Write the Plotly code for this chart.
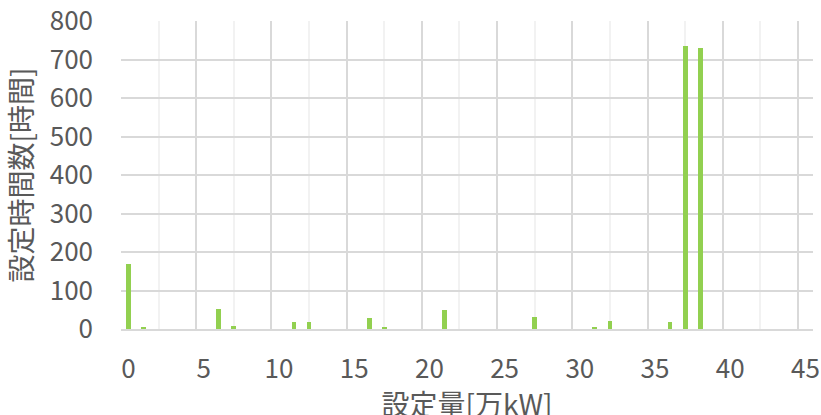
import plotly.graph_objects as go

# data
setting_mw = [0, 1, 6, 7, 11, 12, 16, 17, 21, 27, 31, 32, 36, 37, 38]
hours = [169, 6, 53, 9, 19, 19, 28, 6, 50, 31, 6, 22, 18, 734, 730]
x_tick_labels = [0, 5, 10, 15, 20, 25, 30, 35, 40, 45]
y_tick_labels = [0, 100, 200, 300, 400, 500, 600, 700, 800]

FONT = "Noto Sans CJK JP"
TXT = "#595959"

fig = go.Figure()
fig.add_trace(go.Bar(x=setting_mw, y=hours, width=0.32, marker=dict(color="#92D050", line=dict(width=0)),
                     xaxis="x2", yaxis="y", showlegend=False))
fig.add_trace(go.Scatter(x=[None], y=[None], xaxis="x", yaxis="y", showlegend=False, hoverinfo="skip"))

fig.update_layout(
    width=821, height=423,
    margin=dict(l=121, r=8, t=21, b=94),
    plot_bgcolor="white", paper_bgcolor="white",
    font=dict(family=FONT, color=TXT, size=26),
    bargap=0,
    xaxis=dict(
        range=[-0.5, 45.5], tick0=-0.5, dtick=5, showgrid=True, gridcolor="#d9d9d9", gridwidth=1.5,
        showticklabels=False, ticks="", zeroline=False, automargin=False,
        showline=True, linecolor="#d9d9d9", linewidth=1.5,
        minor=dict(tick0=2, dtick=5, showgrid=True, gridcolor="#f2f2f2", gridwidth=1.5),
    ),
    xaxis2=dict(
        overlaying="x", side="bottom", range=[-0.5, 45.5], automargin=False,
        tickmode="array", tickvals=x_tick_labels, ticktext=[str(v) for v in x_tick_labels],
        showgrid=False, zeroline=False, ticks="", ticklabelstandoff=22, ticklabeloverflow="allow",
        tickfont=dict(family=FONT, size=26, color=TXT),
        title=dict(text="設定量[万kW]", font=dict(family=FONT, size=28, color=TXT), standoff=14),
    ),
    yaxis=dict(
        range=[0, 800], tickmode="array", tickvals=y_tick_labels, ticktext=[str(v) for v in y_tick_labels],
        showgrid=True, gridcolor="#d9d9d9", gridwidth=1.5, zeroline=False, ticks="", automargin=False,
        ticklabelstandoff=27, ticklabeloverflow="allow",
        tickfont=dict(family=FONT, size=26, color=TXT),
        title=dict(text="設定時間数[時間]", font=dict(family=FONT, size=28, color=TXT), standoff=12),
    ),
)

fig.write_html(
    "out.html",
    config={"displayModeBar": False},
    post_script="document.body.style.margin='0';document.body.style.overflow='hidden';",
)
